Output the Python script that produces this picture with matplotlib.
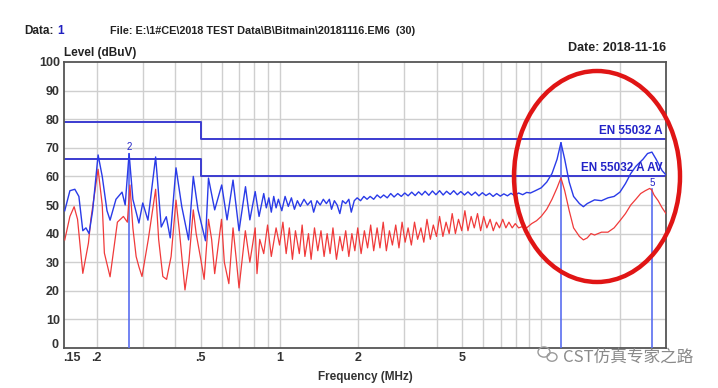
import matplotlib
matplotlib.use("Agg")
import matplotlib.pyplot as plt
from matplotlib.patches import Ellipse
from matplotlib.ticker import FixedLocator, NullFormatter, NullLocator
import matplotlib.transforms as mtransforms

# ---------------- data ----------------
blue_freq = [0.151, 0.158, 0.165, 0.171, 0.177, 0.182, 0.187, 0.193, 0.2025, 0.210,
             0.219, 0.225, 0.237, 0.250, 0.257, 0.266, 0.275, 0.290, 0.300, 0.314,
             0.336, 0.353, 0.369, 0.382, 0.402, 0.423, 0.449, 0.468, 0.488, 0.521,
             0.535, 0.565, 0.601, 0.630, 0.664, 0.700, 0.741, 0.770, 0.807, 0.835,
             0.87, 0.89, 0.91, 0.93, 0.95, 0.97, 0.99, 1.02, 1.05, 1.08,
             1.11, 1.14, 1.17, 1.20, 1.24, 1.28, 1.32, 1.35, 1.39, 1.43,
             1.47, 1.51, 1.55, 1.58, 1.62, 1.66, 1.70, 1.74, 1.79, 1.84,
             1.88, 1.93, 1.98, 2.04, 2.10, 2.16, 2.22, 2.29, 2.36, 2.43,
             2.50, 2.58, 2.66, 2.74, 2.83, 2.92, 3.01, 3.10, 3.20, 3.30,
             3.40, 3.50, 3.60, 3.72, 3.84, 3.96, 4.09, 4.22, 4.35, 4.49,
             4.63, 4.78, 4.93, 5.09, 5.25, 5.42, 5.60, 5.78, 5.96, 6.15,
             6.35, 6.55, 6.76, 6.98, 7.20, 7.43, 7.67, 7.90, 8.20, 8.50,
             8.80, 9.10, 9.50, 10.0, 10.5, 11.0, 11.5, 11.9, 12.3, 12.8,
             13.3, 14.0, 14.5, 15.0, 16.0, 17.0, 18.0, 19.0, 20.0, 21.0,
             22.0, 23.0, 24.5, 25.5, 26.5, 27.5, 29.0, 30.0]
blue_level = [48, 55, 55.5, 53, 41, 42, 40, 48, 67.5, 60,
              48, 44.7, 52, 54.5, 50, 68, 52, 43.7, 50.7, 44.7,
              66.8, 42.3, 45.9, 38.5, 63, 49.4, 37.8, 60, 48.3, 37.5,
              59.4, 48.3, 57, 44.8, 58.7, 41, 56.4, 44.8, 54.7, 46,
              54, 49, 52.5, 47.5, 53, 49, 52, 48, 53, 49.5,
              52.5, 48.5, 51.5, 49.5, 52, 50, 51.5, 47.5, 51.5, 50,
              52, 50.5, 52, 48.5, 51.5, 50, 47, 51.5, 50.5, 52,
              47.5, 51.5, 52.5, 51.5, 53, 52, 53, 52, 53.5, 52.5,
              53.5, 52.5, 54, 52.8, 54, 53, 54.2, 53.2, 54.5, 53.3,
              54.6, 53.5, 54.8, 53.4, 54.9, 53.6, 55, 53.5, 54.8, 53.7,
              55, 53.6, 54.7, 53.5, 54.6, 53.4, 54.5, 53.2, 54.3, 53.3,
              54.1, 53, 54, 53.1, 53.9, 53.2, 54.1, 53.3, 54.2, 53.6,
              54.4, 54.2, 55, 56, 58, 61, 66, 71.8, 66, 58,
              53, 50.5, 49.4, 50.5, 51.8, 51.5, 52.5, 53, 54.5, 57.5,
              61, 63.5, 66, 68, 68.5, 66, 62, 60.5]

red_freq = [0.151, 0.158, 0.164, 0.169, 0.177, 0.186, 0.190, 0.2025, 0.210, 0.214,
            0.225, 0.240, 0.253, 0.262, 0.268, 0.275, 0.283, 0.290, 0.298, 0.315,
            0.336, 0.345, 0.358, 0.370, 0.385, 0.402, 0.415, 0.435, 0.450, 0.468,
            0.480, 0.500, 0.515, 0.535, 0.550, 0.565, 0.600, 0.615, 0.640, 0.664,
            0.685, 0.700, 0.740, 0.770, 0.807, 0.820, 0.840, 0.870, 0.900, 0.930,
            0.970, 1.00, 1.03, 1.06, 1.09, 1.12, 1.15, 1.19, 1.22, 1.25,
            1.29, 1.32, 1.36, 1.40, 1.44, 1.48, 1.52, 1.56, 1.60, 1.65,
            1.70, 1.74, 1.79, 1.84, 1.89, 1.94, 1.99, 2.05, 2.11, 2.17,
            2.23, 2.29, 2.36, 2.42, 2.49, 2.56, 2.63, 2.70, 2.78, 2.86,
            2.94, 3.02, 3.10, 3.19, 3.28, 3.37, 3.47, 3.56, 3.66, 3.77,
            3.87, 3.98, 4.09, 4.21, 4.33, 4.45, 4.57, 4.70, 4.83, 4.97,
            5.11, 5.25, 5.40, 5.55, 5.71, 5.87, 6.03, 6.20, 6.38, 6.56,
            6.74, 6.93, 7.13, 7.33, 7.53, 7.75, 7.96, 8.20, 8.50, 8.80,
            9.20, 9.60, 10.0, 10.5, 11.0, 11.5, 11.9, 12.3, 12.8, 13.3,
            14.0, 14.5, 15.0, 15.5, 16.0, 17.0, 18.0, 19.0, 20.0, 21.0,
            22.0, 23.0, 24.0, 25.0, 26.0, 26.5, 27.0, 28.0, 29.0, 30.0]
red_level = [37.8, 46, 49.4, 45, 26.1, 36.7, 45, 62.5, 50, 33.2,
             24.9, 44, 46, 44, 57, 42, 32, 28.4, 25, 38,
             55.5, 38, 25, 24, 32, 51.7, 40, 20.3, 30, 48.3,
             40, 31, 24, 45, 38, 26, 45, 30, 22.5, 42,
             30, 21, 41, 30, 42, 26, 38, 33, 43, 32,
             42, 36, 44, 33, 42, 31, 41, 33, 43, 32,
             40, 31, 42, 34, 41, 32, 40, 33, 42, 31,
             39, 34, 41, 32, 40, 34, 42, 33, 41, 35,
             43, 34, 42, 35, 44, 34, 41, 36, 43, 35,
             44, 37, 42, 36, 44, 38, 42, 37, 45, 38,
             43, 39, 46, 39, 44, 40, 47, 40, 45, 41,
             48, 41, 46, 42, 47, 41, 46, 42, 45, 41,
             44, 42, 45, 42, 44, 42, 43.5, 42, 42.5, 42,
             43.5, 44.5, 46, 48.5, 52, 56, 59.5, 55, 48, 42,
             39, 37.8, 38.5, 40, 39.5, 40.5, 40.5, 42, 44.5, 47,
             50, 52, 54, 55, 55.8, 55.2, 53.5, 51.5, 49, 47]

limit_qp_freq = [0.15, 0.5, 0.5, 30]
limit_qp_level = [79, 79, 73, 73]
limit_av_freq = [0.15, 0.5, 0.5, 30]
limit_av_level = [66, 66, 60, 60]

marker_freq = [0.266, 11.9, 26.5]
marker_level = [68, 71.8, 55.5]
marker_labels = ["2", "", "5"]

xtick_vals = [0.15, 0.2, 0.5, 1, 2, 5]
xtick_labels = [".15", ".2", ".5", "1", "2", "5"]
ytick_vals = [0, 10, 20, 30, 40, 50, 60, 70, 80, 90, 100]

# ---------------- figure ----------------
W, H = 718, 388
fig = plt.figure(figsize=(W / 100, H / 100), dpi=100)
fig.patch.set_facecolor("white")
ax = fig.add_axes([64 / W, 1 - 348 / H, 602 / W, 286 / H])

narrow = ["Liberation Sans Narrow", "Liberation Sans", "DejaVu Sans"]

ax.set_xscale("log")
ax.set_xlim(0.15, 30)
ax.set_ylim(0, 100)

# grid
grid_x = [0.2, 0.3, 0.4, 0.5, 0.6, 0.7, 0.8, 0.9, 1, 2, 3, 4, 5, 6, 7, 8, 9, 10, 20]
for gx in grid_x:
    ax.axvline(gx, color="#cfcfcf", lw=1.0, zorder=0)
for gy in ytick_vals[1:-1]:
    ax.axhline(gy, color="#cfcfcf", lw=1.0, zorder=0)

# limit lines
lim_color = "#3b3bd0"
ax.plot(limit_qp_freq, limit_qp_level, color=lim_color, lw=1.4, zorder=2)
ax.plot(limit_av_freq, limit_av_level, color=lim_color, lw=1.4, zorder=2)
ax.text(29.0, 73.8, "EN 55032 A", color="#2323c8", fontsize=8.5, fontweight="bold",
        ha="right", va="bottom", family=narrow, zorder=5)
ax.text(29.0, 60.8, "EN 55032 A AV", color="#2323c8", fontsize=8.5, fontweight="bold",
        ha="right", va="bottom", family=narrow, zorder=5)

# marker lines
for mf, ml, lab in zip(marker_freq, marker_level, marker_labels):
    ax.plot([mf, mf], [0, ml], color="#5a6ef0", lw=1.2, zorder=3)
    if lab:
        ax.text(mf, ml + 0.5, lab, color="#2323c8", fontsize=7, ha="center",
                va="bottom", family=narrow, zorder=5)

# traces
ax.plot(red_freq, red_level, color="#f03a3a", lw=0.9, zorder=3)
ax.plot(blue_freq, blue_level, color="#2a3be8", lw=1.0, zorder=4)

# ticks
ax.xaxis.set_major_locator(FixedLocator(xtick_vals))
ax.xaxis.set_minor_locator(NullLocator())
ax.xaxis.set_minor_formatter(NullFormatter())
ax.set_xticklabels(xtick_labels)
ax.set_yticks(ytick_vals)
ax.tick_params(axis="both", length=0, labelsize=9, colors="#333333")
ax.tick_params(axis="y", pad=3)
ax.tick_params(axis="x", pad=3)
for lbl in ax.get_xticklabels() + ax.get_yticklabels():
    lbl.set_fontweight("bold")
    lbl.set_family(narrow)
# first x label sits just right of the origin, "0" slightly raised
xl = ax.get_xticklabels()
xl[0].set_horizontalalignment("left")
xl[0].set_transform(xl[0].get_transform() +
                    mtransforms.ScaledTranslation(-1 / 100, 0, fig.dpi_scale_trans))
yl = ax.get_yticklabels()
yl[0].set_transform(yl[0].get_transform() +
                    mtransforms.ScaledTranslation(-1 / 100, 4 / 100, fig.dpi_scale_trans))
for sp in ax.spines.values():
    sp.set_color("#555555")
    sp.set_linewidth(1.3)

ax.set_xlabel("Frequency (MHz)", fontsize=8.5, fontweight="bold", color="#333333",
              family=narrow, labelpad=5)

# header texts
fig.text(24 / W, 1 - 31 / H, "Data:", fontsize=8.5, fontweight="bold", color="#222222",
         family=narrow, va="center")
fig.text(57 / W, 1 - 31 / H, "1", fontsize=8.5, fontweight="bold", color="#2020c0",
         family=narrow, va="center")
fig.text(110 / W, 1 - 31 / H, "File: E:\\1#CE\\2018 TEST Data\\B\\Bitmain\\20181116.EM6  (30)",
         fontsize=7.8, fontweight="bold", color="#222222", family=narrow, va="center")
fig.text(64 / W, 1 - 53 / H, "Level (dBuV)", fontsize=8.5, fontweight="bold",
         color="#222222", family=narrow, va="center")
fig.text(666 / W, 1 - 48 / H, "Date: 2018-11-16", fontsize=9, fontweight="bold",
         color="#222222", family=narrow, va="center", ha="right")

# red annotation ellipse
ell = Ellipse((597 / W, 1 - 176.5 / H), 166 / W, 211 / H, transform=fig.transFigure,
              fill=False, edgecolor="#e01515", lw=3.2, zorder=10)
fig.patches.append(ell)

# watermark
for (cx, cy, r) in [(544, 352, 6), (552, 357, 5)]:
    fig.patches.append(Ellipse((cx / W, 1 - cy / H), 2 * r / W, 1.7 * r / H,
                               transform=fig.transFigure, fill=False,
                               edgecolor="#9a9a9a", lw=1.0))
fig.text(563 / W, 1 - 357 / H, "CST仿真专家之路", fontsize=12, color="#8a8a8a",
         family=["Noto Sans CJK SC", "DejaVu Sans"], va="center")

fig.savefig("out.png", dpi=100, facecolor="white")
